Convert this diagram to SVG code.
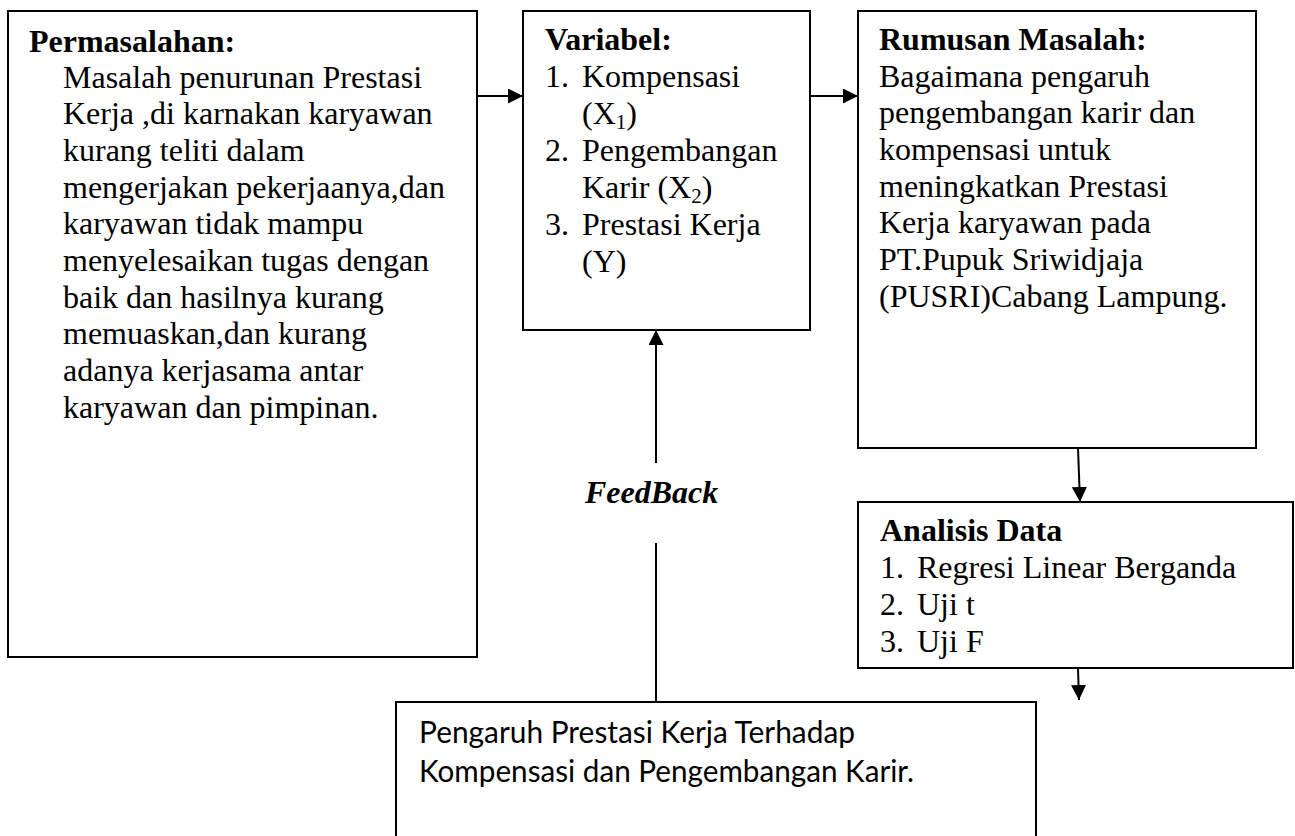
<svg xmlns="http://www.w3.org/2000/svg" width="1295" height="836" viewBox="0 0 1295 836">
<defs>
<style>
.box{fill:#fff;stroke:#000;stroke-width:2}
.t{font-family:"Liberation Serif","Times New Roman",serif;font-size:32px;fill:#000}
.b{font-weight:bold}
.fb{font-family:"Liberation Serif","Times New Roman",serif;font-size:32px;font-weight:bold;font-style:italic;fill:#000}
.s{font-family:Lato,"Open Sans",sans-serif;font-size:31px;fill:#000}
.c{stroke:#000;stroke-width:2;fill:none}
</style>
<marker id="arr" markerUnits="userSpaceOnUse" markerWidth="15" markerHeight="15" refX="15" refY="7.5" orient="auto">
<path d="M0,0 L15,7.5 L0,15 z" fill="#000"/>
</marker>
</defs>
<rect width="1295" height="836" fill="#fff"/>

<g id="permasalahan">
<rect class="box" x="8" y="11" width="469" height="646"/>
<text class="t b" x="29" y="52">Permasalahan:</text>
<text class="t" x="63" y="87.5">Masalah penurunan Prestasi</text>
<text class="t" x="63" y="124.2">Kerja ,di karnakan karyawan</text>
<text class="t" x="63" y="160.9">kurang teliti dalam</text>
<text class="t" x="63" y="197.6">mengerjakan pekerjaanya,dan</text>
<text class="t" x="63" y="234.3">karyawan tidak mampu</text>
<text class="t" x="63" y="271">menyelesaikan tugas dengan</text>
<text class="t" x="63" y="307.7">baik dan hasilnya kurang</text>
<text class="t" x="63" y="344.4">memuaskan,dan kurang</text>
<text class="t" x="63" y="381.1">adanya kerjasama antar</text>
<text class="t" x="63" y="417.8">karyawan dan pimpinan.</text>
</g>

<g id="variabel">
<rect class="box" x="523" y="11" width="287" height="319"/>
<text class="t b" x="545" y="50">Variabel:</text>
<text class="t" x="545" y="87">1.</text>
<text class="t" x="582" y="87">Kompensasi</text>
<text class="t" x="582" y="124">(X<tspan font-size="21" dy="5">1</tspan><tspan dy="-5">)</tspan></text>
<text class="t" x="545" y="161">2.</text>
<text class="t" x="582" y="161">Pengembangan</text>
<text class="t" x="582" y="198">Karir (X<tspan font-size="21" dy="5">2</tspan><tspan dy="-5">)</tspan></text>
<text class="t" x="545" y="235">3.</text>
<text class="t" x="582" y="235">Prestasi Kerja</text>
<text class="t" x="582" y="272">(Y)</text>
</g>

<g id="rumusan">
<rect class="box" x="858" y="11" width="398" height="437"/>
<text class="t b" x="879" y="50">Rumusan Masalah:</text>
<text class="t" x="879" y="86.5">Bagaimana pengaruh</text>
<text class="t" x="879" y="123.2">pengembangan karir dan</text>
<text class="t" x="879" y="159.9">kompensasi untuk</text>
<text class="t" x="879" y="196.6">meningkatkan Prestasi</text>
<text class="t" x="879" y="233.3">Kerja karyawan pada</text>
<text class="t" x="879" y="270">PT.Pupuk Sriwidjaja</text>
<text class="t" x="879" y="306.7">(PUSRI)Cabang Lampung.</text>
</g>

<g id="analisis">
<rect class="box" x="858" y="502" width="435" height="166"/>
<text class="t b" x="880" y="541">Analisis Data</text>
<text class="t" x="880" y="578">1.</text>
<text class="t" x="917" y="578">Regresi Linear Berganda</text>
<text class="t" x="880" y="615">2.</text>
<text class="t" x="917" y="615">Uji t</text>
<text class="t" x="880" y="652">3.</text>
<text class="t" x="917" y="652">Uji F</text>
</g>

<g id="pengaruh">
<rect class="box" x="396" y="702" width="640" height="160"/>
<text class="s" x="419" y="743" textLength="436" lengthAdjust="spacingAndGlyphs">Pengaruh Prestasi Kerja Terhadap</text>
<text class="s" x="419" y="782" textLength="495" lengthAdjust="spacingAndGlyphs">Kompensasi dan Pengembangan Karir.</text>
</g>

<g id="connectors">
<line class="c" x1="477" y1="96" x2="523" y2="96" marker-end="url(#arr)"/>
<line class="c" x1="810" y1="96" x2="858" y2="96" marker-end="url(#arr)"/>
<line class="c" x1="1078" y1="448" x2="1080" y2="502" marker-end="url(#arr)"/>
<line class="c" x1="1078" y1="668" x2="1079" y2="700" marker-end="url(#arr)"/>
<line class="c" x1="656" y1="702" x2="656" y2="543"/>
<line class="c" x1="656" y1="463" x2="656" y2="330" marker-end="url(#arr)"/>
<text class="fb" x="585" y="503">FeedBack</text>
</g>
</svg>
